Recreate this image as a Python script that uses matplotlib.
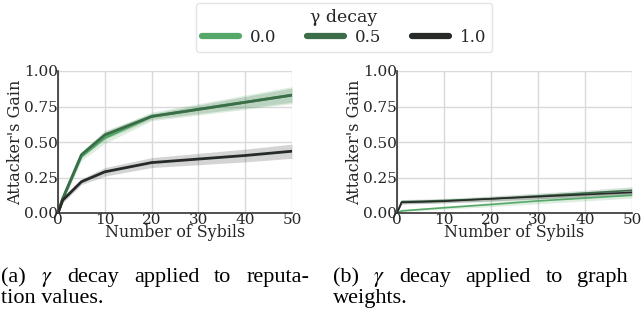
import numpy as np
import matplotlib.pyplot as plt
import seaborn as sns
from matplotlib.lines import Line2D

# gamma decay levels and their colours
gammas = ['0.0', '0.5', '1.0']
colors = ['#55a868', '#3b6e48', '#262b27']

# number of sybils
sybils = np.array([0, 1, 5, 10, 20, 30, 40, 50])

# (a) decay applied to reputation values
rep_mean = {
    '0.0': [0.0, 0.10, 0.40, 0.53, 0.68, 0.73, 0.78, 0.83],
    '0.5': [0.0, 0.10, 0.41, 0.55, 0.68, 0.73, 0.78, 0.83],
    '1.0': [0.0, 0.09, 0.22, 0.29, 0.355, 0.38, 0.405, 0.435],
}
rep_err = {
    '0.0': [0.0, 0.02, 0.03, 0.04, 0.03, 0.04, 0.05, 0.06],
    '0.5': [0.0, 0.02, 0.02, 0.03, 0.02, 0.03, 0.04, 0.05],
    '1.0': [0.0, 0.02, 0.02, 0.03, 0.035, 0.04, 0.045, 0.05],
}

# (b) decay applied to graph weights
gw_mean = {
    '0.0': [0.0, 0.015, 0.025, 0.037, 0.06, 0.085, 0.105, 0.125],
    '0.5': [0.0, 0.08, 0.083, 0.088, 0.10, 0.12, 0.14, 0.16],
    '1.0': [0.0, 0.075, 0.078, 0.083, 0.10, 0.115, 0.13, 0.145],
}
gw_err = {
    '0.0': [0.0, 0.005, 0.008, 0.01, 0.015, 0.02, 0.02, 0.02],
    '0.5': [0.0, 0.015, 0.015, 0.015, 0.02, 0.02, 0.02, 0.025],
    '1.0': [0.0, 0.012, 0.012, 0.012, 0.015, 0.015, 0.02, 0.02],
}

# sub-figure captions (first lines are justified word by word)
cap_a1 = ['(a)', '$\\gamma$', 'decay', 'applied', 'to', 'reputa-']
cap_a2 = 'tion values.'
cap_b1 = ['(b)', '$\\gamma$', 'decay', 'applied', 'to', 'graph']
cap_b2 = 'weights.'

sns.set_theme(style='whitegrid', font='serif')
plt.rcParams['font.family'] = ['DejaVu Serif']
plt.rcParams['mathtext.fontset'] = 'stix'

W, H = 642, 316
fig = plt.figure(figsize=(W / 100, H / 100), dpi=100)
ax1 = fig.add_axes([58/W, 1-213/H, 234/W, 142/H])
ax2 = fig.add_axes([397/W, 1-213/H, 235/W, 142/H])

for ax, means, errs, lw in [(ax1, rep_mean, rep_err, 2.0), (ax2, gw_mean, gw_err, 1.2)]:
    for g, c in zip(gammas, colors):
        m = np.array(means[g])
        e = np.array(errs[g])
        ax.fill_between(sybils, m - e, m + e, color=c, alpha=0.2, linewidth=0)
        ax.plot(sybils, m, color=c, lw=lw)
    ax.set_xlim(0, 50)
    ax.set_ylim(0, 1)
    ax.set_xticks([0, 10, 20, 30, 40, 50])
    ax.set_yticks([0, 0.25, 0.5, 0.75, 1.0])
    ax.set_yticklabels(['0.00', '0.25', '0.50', '0.75', '1.00'])
    ax.tick_params(labelsize=11, pad=0, length=0)
    ax.set_xlabel('Number of Sybils', fontsize=11.4, labelpad=-2)
    ax.set_ylabel("Attacker's Gain", fontsize=11.5, labelpad=0)
    for s in ['left', 'bottom']:
        ax.spines[s].set_color('#333333')
        ax.spines[s].set_linewidth(1.2)
    for s in ['top', 'right']:
        ax.spines[s].set_visible(False)
    ax.grid(True, color='#d9d9d9', lw=1)

handles = [Line2D([0], [0], color=c, lw=4.5, solid_capstyle='round') for c in colors]
leg = fig.legend(handles, gammas, title='γ decay', ncol=3, loc='upper center',
                 bbox_to_anchor=(344/W, 1-3/H), borderaxespad=0, fontsize=12,
                 title_fontsize=12.5, frameon=True, handlelength=2.2, columnspacing=1.85,
                 borderpad=0.35, labelspacing=0.2, handletextpad=0.66)
leg.get_frame().set_edgecolor('#dddddd')

cap = dict(family='Liberation Serif', fontsize=16, color='black', va='baseline')
renderer = fig.canvas.get_renderer()


def justify(words, x0, y, x_last):
    # spread the words so that the last one starts at x_last
    texts = [fig.text(0, 1 - y / H, w, **cap) for w in words]
    widths = [t.get_window_extent(renderer).width for t in texts]
    gap = (x_last - x0 - sum(widths[:-1])) / (len(words) - 1)
    x = x0
    for t, w in zip(texts, widths):
        t.set_x(x / W)
        x += w + gap


a_last = fig.text(0, 0, cap_a1[-1], **cap).get_window_extent(renderer).width
fig.texts.pop()
justify(cap_a1, 1, 282, 309 - a_last)
fig.text(1 / W, 1 - 303 / H, cap_a2, **cap)
justify(cap_b1, 333, 282, 577)
fig.text(333 / W, 1 - 303 / H, cap_b2, **cap)

fig.savefig('out.png', dpi=100)
